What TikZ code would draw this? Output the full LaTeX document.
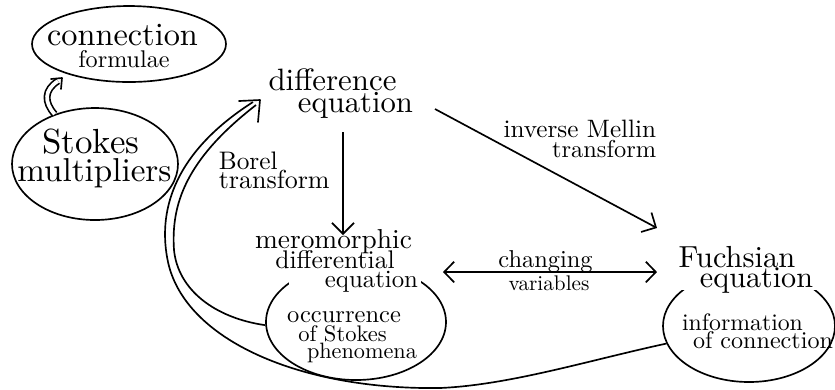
\documentclass[tikz,border=0pt]{standalone}
\usepackage{graphicx}
\usetikzlibrary{shapes.geometric,arrows.meta}
\newcommand\pu{0.3pt}
\newcommand\tsc[2]{\scalebox{#1}{#2}}
\begin{document}
\begin{tikzpicture}[x=0.3pt,y=-0.3pt,
  line width=0.5pt,
  ell/.style={ellipse, draw, inner sep=0pt},
  lbl/.style={inner sep=0pt, anchor=base},
  lblw/.style={inner sep=0pt, anchor=base west},
  lble/.style={inner sep=0pt, anchor=base east},
  arr/.style={-{Straight Barb[length=3.3pt,width=6.6pt]}},
  darr/.style={{Straight Barb[length=3pt,width=6.2pt]}-{Straight Barb[length=3pt,width=6.2pt]}},
  dbl/.style={double, double distance=1.1pt},
]
\useasboundingbox (0,0) rectangle (835,389);

% ellipses
\node[ell, minimum width=194*\pu, minimum height=76*\pu] (conn) at (129,44) {};
\node[ell, minimum width=166*\pu, minimum height=112*\pu] (stokes) at (95,164) {};
\node[ell, minimum width=180*\pu, minimum height=116*\pu] (occ) at (356,322) {};
\node[ell, minimum width=172*\pu, minimum height=112*\pu] (fuchs) at (749,326) {};

% white masks behind the titles
\fill[white] (289,260) rectangle (421,285);
\fill[white] (676,266) rectangle (818,290);

% texts
\node[lbl] (connA) at (122.5,45) {\tsc{0.97}{connection}};
\node[lbl] (connB) at (124,67) {\tsc{0.725}{formulae}};
\node[lbl] (stkA) at (91,153) {\tsc{1.046}{Stokes}};
\node[lbl] (stkB) at (94.5,181) {\tsc{0.994}{multipliers}};
\node[lbl] (difA) at (332.5,90) {\tsc{0.927}{difference}};
\node[lbl] (difB) at (355.5,112) {\tsc{0.92}{equation}};
\node[lblw] (borA) at (218,169) {\tsc{0.76}{Borel}};
\node[lblw] (borB) at (218,188) {\tsc{0.78}{transform}};
\node[lble] (melA) at (657,137) {\tsc{0.755}{inverse Mellin}};
\node[lble] (melB) at (657,157) {\tsc{0.732}{transform}};
\node[lbl] (merA) at (333.5,248) {\tsc{0.822}{meromorphic}};
\node[lbl] (merB) at (335,268) {\tsc{0.766}{differential}};
\node[lbl] (merC) at (371.5,287) {\tsc{0.744}{equation}};
\node[lbl] (occA) at (344,322) {\tsc{0.735}{occurrence}};
\node[lbl] (occB) at (342.5,341) {\tsc{0.676}{of Stokes}};
\node[lbl] (occC) at (362,358) {\tsc{0.667}{phenomena}};
\node[lbl] (chA) at (545.5,267) {\tsc{0.733}{changing}};
\node[lbl] (chB) at (549,290) {\tsc{0.636}{variables}};
\node[lbl] (fuA) at (737,267) {\tsc{0.914}{Fuchsian}};
\node[lbl] (fuB) at (756.5,287) {\tsc{0.904}{equation}};
\node[lbl] (infA) at (742.5,330) {\tsc{0.713}{information}};
\node[lbl] (infB) at (763,348) {\tsc{0.723}{of connection}};

% connector end points
\coordinate (vA) at (343,132);
\coordinate (vB) at (343,235);
\coordinate (imA) at (435,109);
\coordinate (imB) at (657,228);
\coordinate (cvA) at (443,272);
\coordinate (cvB) at (657,272);
\coordinate (sEnd) at (58,81);
\coordinate (sTip) at (62,78);
\coordinate (sBa) at (51,79);
\coordinate (sBb) at (61,89);
\coordinate (bI) at (256,105);
\coordinate (bO) at (253,102);
\coordinate (bTip) at (260,100);
\coordinate (bBa) at (239,101);
\coordinate (bBb) at (258,122);

% connectors
\draw[arr] (vA) -- (vB);
\draw[arr] (imA) -- (imB);
\draw[darr] (cvA) -- (cvB);

% Stokes -> connection (double line)
\draw[dbl] (stokes.129) .. controls (44,102) and (44,90) .. (sEnd);
\draw[line cap=round, line join=round] (sBa) -- (sTip) -- (sBb);

% Borel transform (two converging lines)
\draw (occ.182) .. controls (215,318) and (178,290) .. (174,250)
      .. controls (171,205) and (185,160) .. (bI);
\draw (fuchs.192) .. controls (590,360) and (510,385) .. (440,388)
      .. controls (300,390) and (185,340) .. (168,262)
      .. controls (158,215) and (170,155) .. (bO);
\draw[line cap=round, line join=round] (bBa) -- (bTip) -- (bBb);
\end{tikzpicture}
\end{document}
